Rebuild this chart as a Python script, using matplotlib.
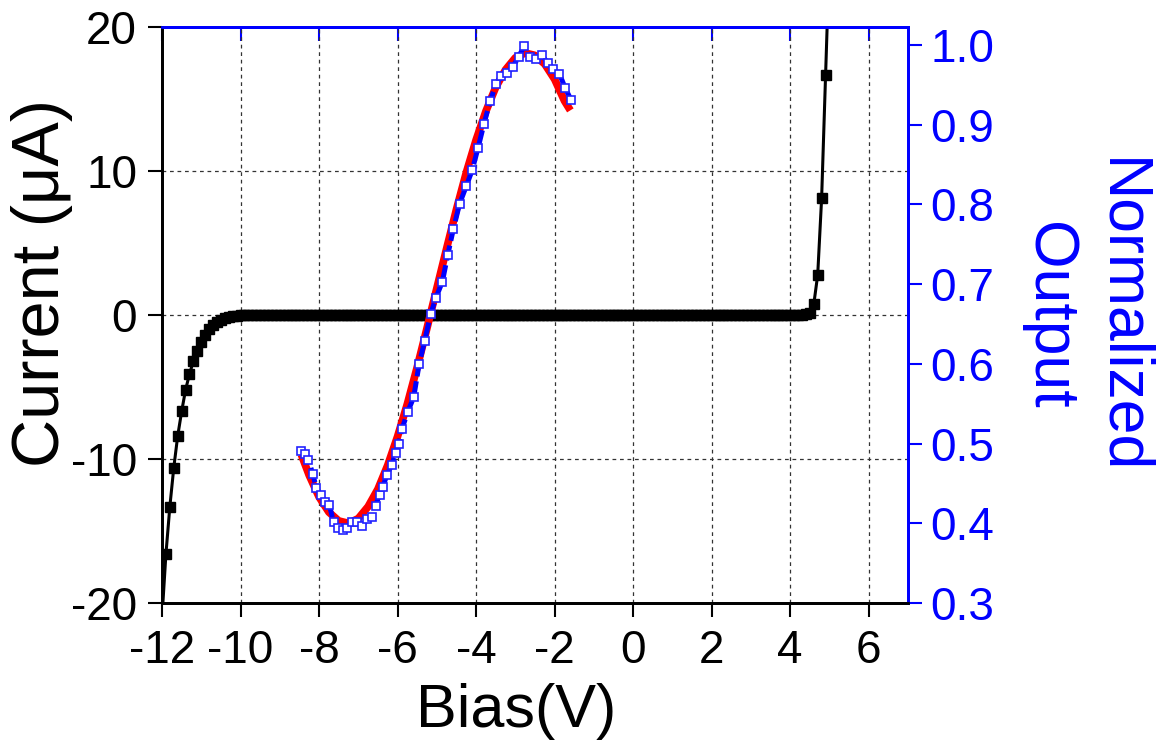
import numpy as np
import matplotlib
matplotlib.use("Agg")
import matplotlib.pyplot as plt

plt.rcParams['font.family'] = ['Liberation Sans', 'DejaVu Sans']
plt.rcParams['axes.unicode_minus'] = False

# ---- data ----
bias = np.round(np.arange(-12.0, 5.0001, 0.1), 2)
current_left = [-21.0, -16.6, -13.3, -10.6, -8.4, -6.7, -5.2, -4.1, -3.2, -2.5,
                -1.9, -1.4, -1.0, -0.7, -0.5, -0.35, -0.23, -0.15, -0.09, -0.05,
                -0.03, -0.02, -0.01]                                  # -12.0 .. -9.8
current_right = [0.02, 0.05, 0.15, 0.74, 2.78, 8.1, 16.7, 25.0]       # 4.3 .. 5.0
n_flat = len(bias) - len(current_left) - len(current_right)
current = current_left + [0.0] * n_flat + current_right

norm_x = [-8.45, -8.36, -8.27, -8.16, -8.07, -7.95, -7.84, -7.74, -7.63, -7.52,
          -7.39, -7.28, -7.16, -7.04, -6.90, -6.79, -6.65, -6.56, -6.46, -6.38,
          -6.27, -6.15, -6.05, -5.97, -5.89, -5.74, -5.59, -5.45, -5.31, -5.16,
          -5.03, -4.86, -4.72, -4.58, -4.42, -4.25, -4.10, -3.95, -3.80, -3.64,
          -3.49, -3.36, -3.21, -3.07, -2.92, -2.77, -2.62, -2.47, -2.32, -2.17,
          -2.03, -1.88, -1.73, -1.58]
norm_y = [0.491, 0.487, 0.479, 0.462, 0.444, 0.435, 0.427, 0.423, 0.402, 0.394,
          0.391, 0.394, 0.402, 0.401, 0.396, 0.405, 0.408, 0.422, 0.436, 0.445,
          0.461, 0.473, 0.488, 0.500, 0.518, 0.540, 0.558, 0.600, 0.629, 0.662,
          0.682, 0.703, 0.737, 0.769, 0.801, 0.823, 0.843, 0.871, 0.901, 0.930,
          0.951, 0.961, 0.965, 0.972, 0.985, 0.999, 0.985, 0.982, 0.987, 0.977,
          0.970, 0.964, 0.946, 0.931]

fit_x = [-8.45, -8.25, -8.0, -7.75, -7.5, -7.25, -7.0, -6.75, -6.5, -6.25,
         -6.0, -5.75, -5.5, -5.25, -5.0, -4.75, -4.5, -4.25, -4.0, -3.75,
         -3.5, -3.25, -3.0, -2.75, -2.5, -2.25, -2.0, -1.75, -1.6]
fit_y = [0.486, 0.460, 0.433, 0.414, 0.403, 0.400, 0.406, 0.421, 0.443, 0.473,
         0.509, 0.550, 0.596, 0.645, 0.695, 0.745, 0.794, 0.840, 0.881, 0.917,
         0.947, 0.969, 0.984, 0.990, 0.987, 0.976, 0.957, 0.930, 0.918]

x_ticks = [-12, -10, -8, -6, -4, -2, 0, 2, 4, 6]
left_ticks = [-20, -10, 0, 10, 20]
right_ticks = [0.3, 0.4, 0.5, 0.6, 0.7, 0.8, 0.9, 1.0]

# ---- figure ----
W, H = 1162, 740
fig = plt.figure(figsize=(W / 100, H / 100), dpi=100)
L, R, T, B = 162, 908, 27, 603
ax = fig.add_axes([L / W, 1 - B / H, (R - L) / W, (B - T) / H])

ax.set_xlim(-12, 7)
ax.set_ylim(-20, 20)
ax.set_xticks(x_ticks)
ax.set_xticklabels([str(v) for v in x_ticks])
ax.set_yticks(left_ticks)
ax.set_yticklabels([str(v) for v in left_ticks])
ax.grid(True, ls=(0, (3, 3)), color='#333333', lw=0.9)
ax.set_axisbelow(True)

ax.plot(bias, current, '-s', color='black', lw=2.2, ms=6.5, zorder=3)

ax.tick_params(axis='y', direction='out', length=10, width=1.5, labelsize=33,
               colors='black', pad=8)
ax.tick_params(axis='x', direction='out', length=10, width=1.5, labelsize=33,
               colors='black', pad=9)

ax2 = ax.twinx()
ax2.set_ylim(0.3, 1.0226)
ax2.set_yticks(right_ticks)
ax2.set_yticklabels([f"{v:.1f}" for v in right_ticks])
ax2.plot(fit_x, fit_y, color='red', lw=5.5, solid_capstyle='butt', zorder=2)
ax2.plot(norm_x, norm_y, color='blue', lw=3.6, ls=(0, (3, 1)), zorder=3)
ax2.plot(norm_x, norm_y, 's', mfc='white', mec='#2222ff', ms=5.6, mew=1.2,
         ls='none', zorder=4)
ax2.tick_params(axis='y', direction='out', length=10, width=1.5, labelsize=33,
                colors='blue', pad=6)

for a in (ax, ax2):
    a.spines['left'].set_color('black')
    a.spines['bottom'].set_color('black')
    a.spines['top'].set_color('blue')
    a.spines['right'].set_color('blue')
    for s in a.spines.values():
        s.set_linewidth(2)

sec = ax.secondary_xaxis('top')
sec.set_xticks(x_ticks)
sec.tick_params(axis='x', direction='in', length=10, width=1.5, colors='blue',
                labeltop=False)
sec.spines['top'].set_color('blue')
sec.spines['top'].set_linewidth(2)

fig.text(42 / W, 1 - 283 / H, 'Current (μA)', rotation=90, ha='center',
         va='center', fontsize=48)
fig.text(516 / W, 1 - 727 / H, 'Bias(V)', ha='center', va='baseline', fontsize=44)
fig.text(1121 / W, 1 - 316 / H, 'Normalized', rotation=270, ha='center',
         va='center', fontsize=45, color='blue')
fig.text(1048 / W, 1 - 316 / H, 'Output', rotation=270, ha='center',
         va='center', fontsize=45, color='blue')

fig.savefig('out.png', dpi=100)
